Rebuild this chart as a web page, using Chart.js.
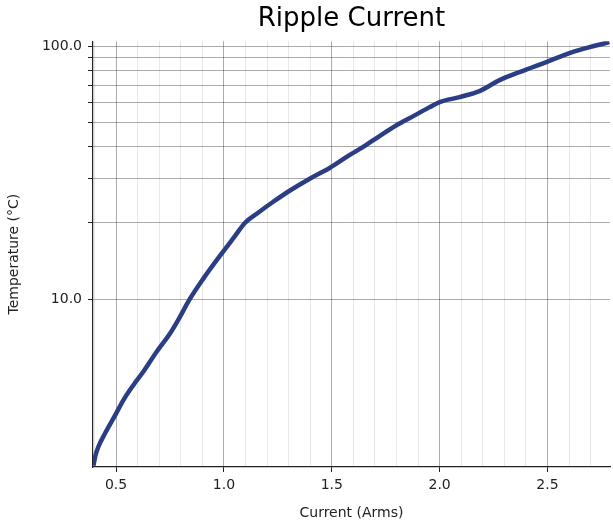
<!DOCTYPE html>
<html>
<head>
<meta charset="utf-8">
<script src="https://cdn.jsdelivr.net/npm/chart.js@4/dist/chart.umd.min.js"></script>
<style>
  html, body { margin: 0; padding: 0; background: #fff; }
  #wrap { width: 613px; height: 524px; }
</style>
</head>
<body>
<div id="wrap"><canvas id="rippleChart"></canvas></div>
<script>
  // Current (Arms) vs temperature rise (°C)
  var currentArms = [0.395, 0.405, 0.418, 0.449, 0.492, 0.534, 0.58, 0.626, 0.688, 0.75,
    0.789, 0.84, 0.903, 0.991, 1.05, 1.097, 1.16, 1.227, 1.31, 1.4, 1.49, 1.58, 1.644,
    1.72, 1.8, 1.88, 1.954, 2.0, 2.093, 2.185, 2.278, 2.37, 2.495, 2.616, 2.7, 2.787];
  var temperature = [2.2, 2.42, 2.61, 2.95, 3.43, 3.99, 4.57, 5.16, 6.19, 7.31,
    8.3, 9.95, 12.0, 15.2, 17.7, 20.0, 22.0, 24.2, 27.0, 30.0, 33.0, 37.0, 39.9,
    44.0, 48.7, 53.0, 57.4, 60.1, 62.9, 66.4, 73.4, 78.9, 86.5, 94.7, 99.3, 103.7];

  // tick positions
  var xTicks = [0.4, 0.5, 0.6, 0.7, 0.8, 0.9, 1.0, 1.1, 1.2, 1.3, 1.4, 1.5, 1.6, 1.7, 1.8,
    1.9, 2.0, 2.1, 2.2, 2.3, 2.4, 2.5, 2.6, 2.7];
  var xLabels = [0.5, 1.0, 1.5, 2.0, 2.5];
  var yTicks = [10, 20, 30, 40, 50, 60, 70, 80, 90, 100];
  var yLabels = [10, 100];

  var points = currentArms.map(function (c, i) { return { x: c, y: temperature[i] }; });

  function isXMajor(v) {
    return xLabels.some(function (m) { return Math.abs(m - v) < 1e-6; });
  }

  var font = "'DejaVu Sans', sans-serif";

  var rippleChart = new Chart(document.getElementById('rippleChart'), {
    type: 'line',
    data: {
      datasets: [{
        data: points,
        borderColor: '#2a3d85',
        borderWidth: 4.5,
        pointRadius: 0,
        fill: false,
        cubicInterpolationMode: 'monotone'
      }]
    },
    options: {
      responsive: true,
      maintainAspectRatio: false,
      animation: false,
      layout: { padding: { left: 6, right: 3, top: 0, bottom: 2 } },
      plugins: {
        legend: { display: false },
        tooltip: { enabled: false },
        title: {
          display: true,
          fullSize: false, // centre over the plot area
          text: 'Ripple Current',
          color: '#000',
          font: { family: font, size: 26, weight: 'normal' },
          padding: { top: 4, bottom: 6 }
        }
      },
      scales: {
        x: {
          type: 'linear',
          min: 0.393,
          max: 2.79,
          afterBuildTicks: function (scale) {
            scale.ticks = xTicks.map(function (v) { return { value: v }; });
          },
          afterFit: function (scale) { scale.height = 55; },
          ticks: {
            autoSkip: false,
            maxRotation: 0,
            color: '#222',
            font: { family: font, size: 14 },
            padding: 5,
            callback: function (v) { return isXMajor(v) ? v.toFixed(1) : ''; }
          },
          grid: {
            drawTicks: true,
            tickLength: 5,
            lineWidth: 1,
            color: function (ctx) {
              return isXMajor(ctx.tick.value) ? 'rgba(0,0,0,0.32)' : 'rgba(0,0,0,0.09)';
            },
            tickColor: function (ctx) {
              return isXMajor(ctx.tick.value) ? '#222' : 'rgba(0,0,0,0)';
            }
          },
          border: { display: true, color: '#222', width: 1.2 },
          title: {
            display: true,
            text: 'Current (Arms)',
            color: '#222',
            font: { family: font, size: 14 },
            padding: { top: 6, bottom: 0 }
          }
        },
        y: {
          type: 'logarithmic',
          min: 2.17,
          max: 104.6,
          afterBuildTicks: function (scale) {
            scale.ticks = yTicks.map(function (v) { return { value: v }; });
          },
          afterFit: function (scale) { scale.width = 87; },
          ticks: {
            autoSkip: false,
            color: '#222',
            font: { family: font, size: 14 },
            padding: 6,
            callback: function (v) { return yLabels.indexOf(v) >= 0 ? v.toFixed(1) : ''; }
          },
          grid: {
            tickLength: 5,
            lineWidth: 1,
            color: 'rgba(0,0,0,0.33)',
            tickColor: '#222'
          },
          border: { display: true, color: '#222', width: 1.2 },
          title: {
            display: true,
            text: 'Temperature (°C)',
            color: '#222',
            font: { family: font, size: 14 },
            padding: { top: 0, bottom: 8 }
          }
        }
      }
    }
  });
</script>
</body>
</html>
